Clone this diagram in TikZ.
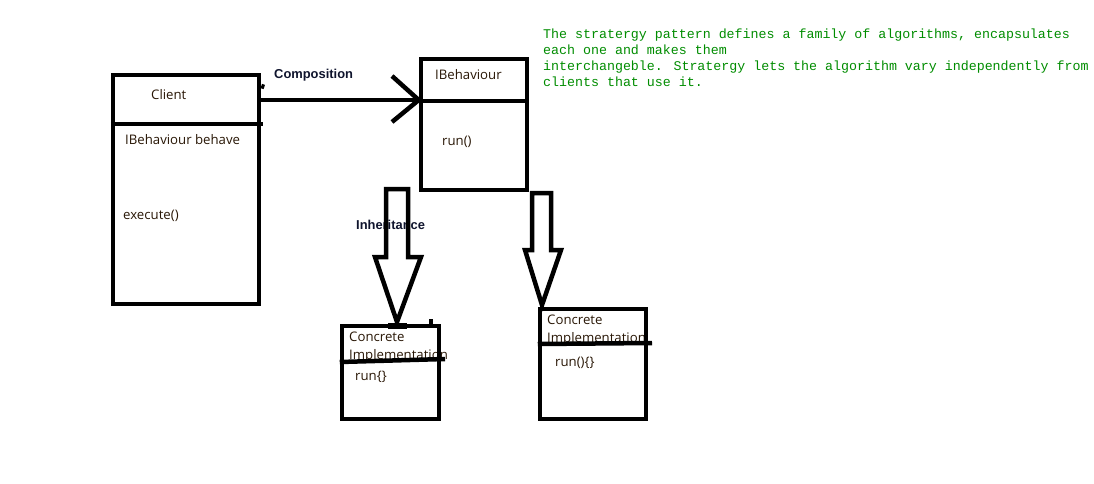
\documentclass[tikz,border=0pt]{standalone}
\usepackage{fontspec}
\setmainfont{Open Sans}
\newfontfamily\labelfont{Liberation Sans}
\newfontfamily\notefont{Liberation Mono}
\definecolor{notegreen}{RGB}{0,140,0}
\definecolor{inkbrown}{RGB}{40,22,5}
\definecolor{inknavy}{RGB}{15,20,45}
\begin{document}
\begin{tikzpicture}[x=1pt,y=-1pt,
    umlbox/.style={draw, line width=4.5pt, inner sep=0pt},
    boxtext/.style={anchor=base west, inner sep=0pt, text=inkbrown, font=\fontsize{13.2}{15}\selectfont},
    relname/.style={anchor=base west, inner sep=0pt, text=inknavy, font=\labelfont\bfseries\fontsize{12.9}{14}\selectfont},
    thickline/.style={line width=4.5pt}]

    \useasboundingbox (0,0) rectangle (1094,484);

    %draw note
    \node[anchor=north west, inner sep=0pt, align=left, text=notegreen,
          font=\notefont\fontsize{13.3}{16.1}\selectfont] (note) at (543,28.5)
        {The stratergy pattern defines a family of algorithms, encapsulates\\
         each one and makes them\\
         interchangeble. Stratergy lets the algorithm vary independently from\\
         clients that use it.};

    %draw box texts
    \node[boxtext] (clientname) at (151,100) {Client};
    \node[boxtext] (clientfield) at (125,144) {IBehaviour behave};
    \node[boxtext] (clientop) at (123,219.5) {execute()};
    \node[boxtext] (behavename) at (435,80) {IBehaviour};
    \node[boxtext] (behaveop) at (442,145) {run()};
    \node[boxtext] (concAname) at (349,341) {Concrete};
    \node[boxtext] (concAname2) at (349,359) {Implementation};
    \node[boxtext] (concAop) at (355,380) {run\{\}};
    \node[boxtext] (concBname) at (547,324) {Concrete};
    \node[boxtext] (concBname2) at (547,342) {Implementation};
    \node[boxtext] (concBop) at (555,366) {run()\{\}};

    %draw relation labels
    \node[relname] (complabel) at (274,79) {Composition};
    \node[relname] (inhlabel) at (356,229) {Inheritance};

    %draw boxes
    \node[umlbox, minimum width=146pt, minimum height=229pt] (client) at (186,189.5) {};
    \node[umlbox, minimum width=106pt, minimum height=131pt] (behaviour) at (474,124.5) {};
    \node[umlbox, minimum width=97pt, minimum height=93pt] (concreteA) at (390.5,372.5) {};
    \node[umlbox, minimum width=106pt, minimum height=110pt] (concreteB) at (593,364) {};

    %draw dividers
    \draw[thickline] (client.west |- 0,124) -- (263,124);
    \draw[thickline] (behaviour.west |- 0,101) -- (529,101);
    \draw[thickline] (concreteA.west |- 0,362) -- (445,359);
    \draw[thickline] (concreteB.west |- 0,344) -- (652,343);
    \draw[thickline] (client.east |- 0,86) -- ++(3,1);

    %draw composition
    \coordinate (comptip) at (behaviour.west |- 0,100);
    \draw[thickline] (client.east |- 0,100) -- (comptip);
    \draw[thickline] (392,76) -- (comptip) -- (392,122);

    %draw inheritance
    \coordinate (inhA) at (397,189);
    \coordinate (inhB) at (542,193);
    \draw[thickline, line join=miter] (inhA) ++(-11,0) -- ++(22,0) -- ++(0,68) -- ++(13,0)
        -- (inhA |- 0,322) -- ++(-22,-65) -- ++(11,0) -- cycle;
    \draw[thickline, line join=miter] (inhB) ++(-10,0) -- ++(19,0) -- ++(0,57) -- ++(10,0)
        -- (inhB |- 0,305) -- ++(-17,-55) -- ++(7,0) -- cycle;
    \fill (388,323) rectangle (407,329);
    \draw[line width=4pt] (431,319) -- (431,326);

\end{tikzpicture}
\end{document}
